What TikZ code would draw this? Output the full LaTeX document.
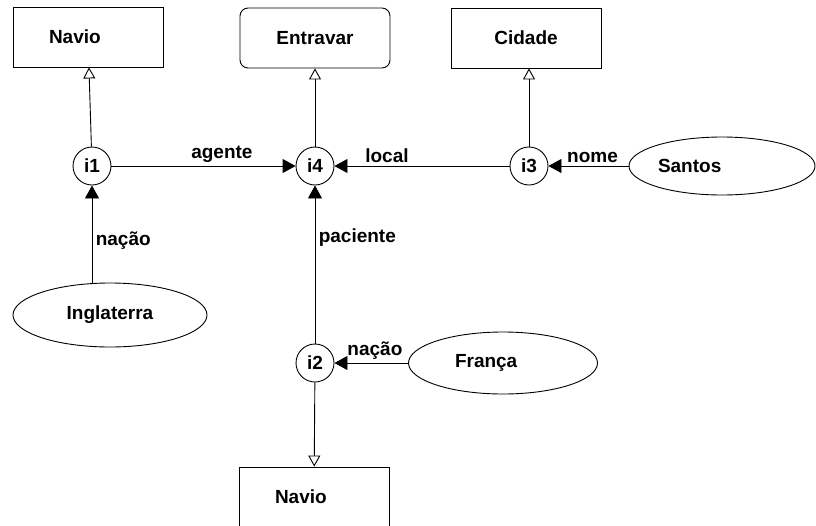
\documentclass[tikz,border=0pt]{standalone}
\usepackage{fontspec}
\setmainfont{Liberation Sans}
\usetikzlibrary{arrows.meta,shapes.geometric}
\tikzset{
  conceito/.style={draw, minimum width=150pt, minimum height=60pt},
  instancia/.style={draw, circle, minimum size=38pt, inner sep=0pt},
  valor/.style={draw, ellipse, inner sep=0pt},
  isa/.style={-{Triangle[open,length=11pt,width=12pt]}},
  rel/.style={-{Triangle[length=13pt,width=14pt]}},
}
\begin{document}
\begin{tikzpicture}[x=1pt, y=-1pt, line width=0.9pt, font=\fontsize{19}{23}\selectfont\bfseries]
        \useasboundingbox (0,0) rectangle (816,525);
        % conceitos
        \node[conceito, text width=78pt, align=left] (navio1) at (88,37) {Navio};
        \node[conceito, rounded corners=8pt] (entravar) at (315,38) {Entravar};
        \node[conceito] (cidade) at (526,38) {Cidade};
        \node[conceito, text width=78pt, align=left] (navio2) at (314,497) {Navio};
        % instancias
        \node[instancia] (i1) at (92,166) {i1};
        \node[instancia] (i4) at (315,166) {i4};
        \node[instancia] (i3) at (529,166) {i3};
        \node[instancia] (i2) at (315,363) {i2};
        % valores
        \node[valor, minimum width=194pt, minimum height=64pt] (ingl) at (110,315) {Inglaterra};
        \node[valor, minimum width=186pt, minimum height=58pt, text width=128pt, align=left] (santos) at (722,166) {Santos};
        \node[valor, minimum width=189pt, minimum height=62pt, text width=96pt, align=left] (franca) at (503,363) {França};
        % generalizacoes
        \draw[isa] (i1) -- (navio1);
        \draw[isa] (i4) -- (entravar);
        \draw[isa] (i3) -- (i3 |- cidade.south);
        \draw[isa] (i2) -- (navio2);
        % relacoes
        \draw[rel] (i1) -- node[above, pos=0.6] {agente} (i4);
        \draw[rel] (i3) -- node[above, pos=0.7] {local} (i4);
        \draw[rel] (santos) -- node[above, pos=0.45] {nome} (i3);
        \draw[rel] (i1 |- ingl.north) -- node[right, pos=0.43] {nação} (i1);
        \draw[rel] (i2) -- node[right, pos=0.67] {paciente} (i4);
        \draw[rel] (franca) -- node[above, pos=0.45] {nação} (i2);
\end{tikzpicture}
\end{document}
